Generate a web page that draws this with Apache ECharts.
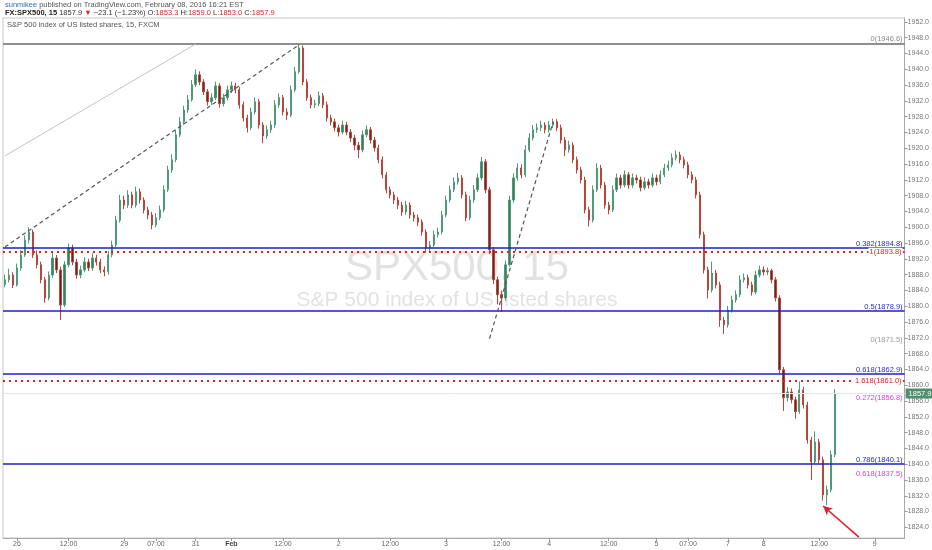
<!DOCTYPE html>
<html><head><meta charset="utf-8">
<script src="https://cdn.jsdelivr.net/npm/echarts@6/dist/echarts.min.js"></script>
<style>html,body{margin:0;padding:0;background:#fff}#c{width:932px;height:550px}</style>
</head><body><div id="c"></div>
<script>
// [open, close, low, high] per (coarsened) 15-min candle
const ohlc = [
[1885.5,1886.7,1884.8,1888.0],[1886.7,1887.9,1886.0,1889.5],[1887.9,1885.4,1884.6,1888.6],[1885.4,1889.7,1885.0,1890.8],
[1889.7,1893.0,1889.0,1894.2],[1893.0,1896.8,1892.5,1897.9],[1896.8,1898.8,1895.9,1900.0],[1898.8,1893.0,1892.2,1899.4],
[1893.0,1890.5,1889.6,1894.1],[1890.5,1886.7,1885.8,1891.3],[1886.7,1882.1,1880.9,1887.4],[1882.1,1887.9,1881.5,1888.8],
[1887.9,1892.2,1887.2,1893.5],[1892.2,1889.2,1888.4,1893.0],[1889.2,1880.3,1876.5,1890.0],[1880.3,1890.5,1879.8,1891.4],
[1890.5,1894.8,1889.9,1895.9],[1894.8,1891.2,1890.4,1895.6],[1891.2,1887.9,1887.0,1892.0],[1887.9,1889.2,1887.1,1890.3],
[1889.2,1891.2,1888.6,1892.4],[1891.2,1889.7,1888.9,1892.0],[1889.7,1892.2,1889.0,1893.4],[1892.2,1891.2,1890.3,1893.0],
[1891.2,1889.2,1888.4,1892.0],[1889.2,1888.7,1887.6,1890.1],[1888.7,1893.0,1888.0,1894.0],[1893.0,1895.5,1892.4,1896.6],
[1895.5,1901.8,1895.0,1902.9],[1901.8,1906.9,1901.2,1908.2],[1906.9,1905.6,1904.6,1908.0],[1905.6,1908.2,1904.9,1909.4],
[1908.2,1905.6,1904.8,1909.0],[1905.6,1909.0,1905.0,1910.3],[1909.0,1906.9,1906.0,1909.8],[1906.9,1904.4,1903.5,1907.6],
[1904.4,1903.1,1902.0,1905.2],[1903.1,1900.6,1899.5,1903.9],[1900.6,1902.4,1900.0,1903.6],[1902.4,1904.4,1901.8,1905.5],
[1904.4,1909.5,1903.8,1910.6],[1909.5,1914.5,1909.0,1915.6],[1914.5,1917.1,1913.8,1918.5],[1917.1,1923.4,1916.5,1924.6],
[1923.4,1926.7,1922.8,1927.9],[1926.7,1929.7,1926.0,1930.8],[1929.7,1932.3,1929.0,1933.5],[1932.3,1936.1,1931.8,1937.3],
[1936.1,1938.6,1935.5,1940.0],[1938.6,1936.8,1936.0,1939.5],[1936.8,1934.3,1933.5,1937.5],[1934.3,1931.8,1930.8,1935.0],
[1931.8,1932.8,1931.0,1933.9],[1932.8,1935.8,1932.2,1936.9],[1935.8,1931.3,1930.3,1936.5],[1931.3,1932.8,1930.6,1933.8],
[1932.8,1934.8,1932.1,1935.9],[1934.8,1935.8,1934.0,1936.9],[1935.8,1934.8,1933.9,1936.6],[1934.8,1931.0,1930.0,1935.5],
[1931.0,1927.7,1926.8,1931.8],[1927.7,1925.2,1924.0,1928.5],[1925.2,1929.2,1924.6,1930.3],[1929.2,1931.8,1928.6,1932.9],
[1931.8,1925.9,1925.0,1932.5],[1925.9,1923.1,1921.3,1926.6],[1923.1,1924.7,1922.4,1925.8],[1924.7,1925.9,1923.9,1927.0],
[1925.9,1931.0,1925.2,1932.2],[1931.0,1932.8,1930.3,1933.9],[1932.8,1929.2,1928.3,1933.5],[1929.2,1928.4,1927.2,1930.1],
[1928.4,1934.8,1927.9,1935.9],[1934.8,1939.4,1934.2,1940.6],[1939.4,1945.4,1938.9,1946.4],[1945.4,1936.8,1936.0,1946.0],
[1936.8,1932.8,1932.0,1937.5],[1932.8,1931.0,1930.1,1933.6],[1931.0,1931.3,1930.2,1932.3],[1931.3,1933.3,1930.7,1934.4],
[1933.3,1931.0,1930.2,1934.0],[1931.0,1927.7,1926.8,1931.8],[1927.7,1926.7,1925.8,1928.5],[1926.7,1925.2,1924.3,1927.5],
[1925.2,1924.1,1923.0,1926.0],[1924.1,1925.9,1923.5,1927.0],[1925.9,1924.1,1923.3,1926.7],[1924.1,1922.6,1921.6,1924.9],
[1922.6,1920.8,1919.5,1923.4],[1920.8,1919.6,1917.5,1921.6],[1919.6,1923.4,1919.0,1924.5],[1923.4,1924.7,1922.8,1925.8],
[1924.7,1922.1,1921.2,1925.4],[1922.1,1920.1,1919.2,1922.9],[1920.1,1917.1,1916.2,1920.9],[1917.1,1913.3,1912.4,1917.9],
[1913.3,1909.5,1908.6,1914.0],[1909.5,1908.2,1907.3,1910.3],[1908.2,1906.9,1905.9,1909.0],[1906.9,1905.6,1904.6,1907.7],
[1905.6,1903.9,1902.9,1906.4],[1903.9,1905.6,1903.2,1906.7],[1905.6,1903.1,1902.2,1906.3],[1903.1,1902.4,1901.5,1903.9],
[1902.4,1901.3,1900.3,1903.2],[1901.3,1898.8,1897.9,1902.0],[1898.8,1894.8,1893.6,1899.5],[1894.8,1895.5,1894.0,1896.5],
[1895.5,1898.1,1895.0,1899.2],[1898.1,1898.8,1897.4,1899.9],[1898.8,1903.1,1898.2,1904.2],[1903.1,1906.9,1902.5,1908.0],
[1906.9,1909.5,1906.3,1910.6],[1909.5,1911.5,1908.9,1912.6],[1911.5,1912.5,1910.8,1913.8],[1912.5,1908.2,1907.3,1913.2],
[1908.2,1902.4,1901.5,1909.0],[1902.4,1906.9,1901.8,1908.0],[1906.9,1909.5,1906.2,1910.7],[1909.5,1912.5,1908.9,1913.6],
[1912.5,1916.6,1911.9,1917.8],[1916.6,1909.5,1908.6,1917.3],[1909.5,1894.3,1893.2,1910.2],[1894.3,1886.7,1885.6,1895.0],
[1886.7,1882.9,1880.5,1887.5],[1882.9,1882.1,1878.6,1884.0],[1882.1,1890.5,1881.4,1891.6],[1890.5,1906.9,1890.0,1908.0],
[1906.9,1912.5,1906.2,1913.7],[1912.5,1915.0,1911.8,1916.2],[1915.0,1913.3,1912.4,1915.9],[1913.3,1919.6,1912.7,1920.8],
[1919.6,1922.6,1919.0,1923.8],[1922.6,1924.7,1922.0,1925.9],[1924.7,1925.2,1923.9,1926.3],[1925.2,1925.9,1924.4,1927.0],
[1925.9,1924.7,1923.8,1926.6],[1924.7,1925.9,1924.0,1926.9],[1925.9,1926.7,1925.1,1927.5],[1926.7,1925.2,1924.3,1927.4],
[1925.2,1922.1,1921.2,1926.0],[1922.1,1919.6,1918.0,1922.9],[1919.6,1920.8,1918.9,1921.9],[1920.8,1917.1,1916.2,1921.5],
[1917.1,1914.5,1913.6,1917.9],[1914.5,1912.0,1911.1,1915.3],[1912.0,1904.4,1903.5,1912.8],[1904.4,1901.8,1900.2,1905.2],
[1901.8,1909.5,1901.2,1910.6],[1909.5,1915.0,1908.9,1916.2],[1915.0,1910.7,1909.8,1915.8],[1910.7,1905.6,1904.7,1911.5],
[1905.6,1904.4,1903.3,1906.4],[1904.4,1909.5,1903.8,1910.6],[1909.5,1912.5,1908.9,1913.6],[1912.5,1910.7,1909.8,1913.3],
[1910.7,1913.3,1910.1,1914.4],[1913.3,1910.7,1909.8,1914.0],[1910.7,1912.5,1910.0,1913.6],[1912.5,1912.0,1911.1,1913.3],
[1912.0,1910.0,1909.1,1912.8],[1910.0,1911.5,1909.4,1912.6],[1911.5,1910.7,1909.8,1912.3],[1910.7,1912.5,1910.1,1913.6],
[1912.5,1911.5,1910.6,1913.3],[1911.5,1913.3,1910.9,1914.4],[1913.3,1915.0,1912.7,1916.1],[1915.0,1915.8,1914.3,1916.9],
[1915.8,1917.6,1915.2,1918.7],[1917.6,1918.3,1916.9,1919.5],[1918.3,1917.1,1916.2,1919.1],[1917.1,1915.8,1914.9,1917.9],
[1915.8,1913.3,1912.4,1916.6],[1913.3,1912.0,1911.1,1914.1],[1912.0,1908.2,1907.3,1912.8],[1908.2,1898.1,1897.2,1909.0],
[1898.1,1889.2,1888.3,1898.9],[1889.2,1884.1,1882.0,1890.0],[1884.1,1888.4,1883.5,1891.3],[1888.4,1885.4,1884.5,1889.2],
[1885.4,1876.5,1874.8,1886.2],[1876.5,1875.3,1873.0,1877.3],[1875.3,1879.0,1874.6,1880.1],[1879.0,1881.6,1878.4,1882.7],
[1881.6,1882.9,1880.9,1884.0],[1882.9,1886.7,1882.3,1887.8],[1886.7,1887.2,1886.0,1888.3],[1887.2,1885.4,1884.5,1888.0],
[1885.4,1883.6,1882.7,1886.2],[1883.6,1887.9,1883.0,1889.0],[1887.9,1889.2,1887.3,1890.3],[1889.2,1888.7,1887.8,1890.1],
[1888.7,1889.0,1887.9,1889.8],[1889.0,1886.7,1885.8,1889.5],[1886.7,1882.1,1881.2,1887.4],[1882.1,1863.9,1863.0,1882.8],
[1863.9,1856.8,1853.5,1864.6],[1856.8,1858.3,1855.9,1859.5],[1858.3,1856.3,1855.4,1859.2],[1856.3,1853.3,1851.5,1857.1],
[1853.3,1858.8,1852.7,1861.0],[1858.8,1855.0,1854.1,1859.6],[1855.0,1846.1,1845.2,1855.8],[1846.1,1840.6,1836.0,1846.9],
[1840.6,1845.6,1840.0,1848.3],[1845.6,1841.1,1840.2,1846.4],[1841.1,1832.2,1830.8,1841.9],[1832.2,1833.5,1829.6,1834.6],
[1833.5,1842.4,1832.9,1843.5],[1842.4,1857.9,1841.8,1859.0]
];
const slotCount = 227; // data slots plus empty space to the right
const categories = Array.from({length: slotCount}, (_, i) => 'c' + i);
const tickSlots = [3,16,30,38,48,57,70,84,97,111,125,137,152,164,172,182,191,205,219];
const tickTexts = ['26','12:00','29','07:00','31','Feb','12:00','2','12:00','3','12:00','4','12:00','5','07:00','7','8','12:00','9'];
const yTicks = [1824,1828,1832,1836,1840,1844,1848,1852,1856,1860,1864,1868,1872,1876,1880,1884,1888,1892,1896,1900,1904,1908,1912,1916,1920,1924,1928,1932,1936,1940,1944,1948,1952];
const yRange = [1821.3, 1953.0];
const lastPrice = 1857.9;
const topLevel = {name:'0', price:1946.6};
const blueFib = [{name:'0.382', price:1894.8},{name:'0.5', price:1878.9},{name:'0.618', price:1862.9},{name:'0.786', price:1840.1}];
const redLevels = [{name:'1', price:1893.8},{name:'1.618', price:1861.0}];
const pinkLevels = [{name:'0.272', price:1856.8},{name:'0.618', price:1837.5}];
const greyLevels = [{name:'0', price:1871.5}];
// trend lines: [startSlot, startPrice, endSlot, endPrice]
const thinLine = [0, 1918.1, 48, 1946.4];
const dashLine1 = [0, 1895.0, 74, 1946.2];
const dashLine2 = [122, 1871.8, 138, 1926.7];
const arrowLine = [215, 1821.5, 206, 1829.4];

const FONT = "'Liberation Sans', Arial, sans-serif";
const chart = echarts.init(document.getElementById('c'), null, {renderer: 'canvas'});
const lvl = l => l.name + '(' + l.price.toFixed(1) + ')';
const seg = (s, style) => [{coord:[s[0], s[1]], lineStyle: style}, {coord:[s[2], s[3]], lineStyle: style}];
const tickInterval = (idx) => tickSlots.indexOf(idx) >= 0;
const hidden = {color: 'rgba(255,255,255,0)', width: 0.1, type: 'solid'};

const levelLines = [];
levelLines.push({yAxis: topLevel.price, lineStyle:{color:'#6a6a6a', width:1.6, type:'solid'},
  label:{show:true, position:'insideEndTop', distance:[2,0], formatter: lvl(topLevel), color:'#8a8a8a', fontSize:7.5, fontFamily:FONT}});
blueFib.forEach(l => levelLines.push({yAxis: l.price, lineStyle:{color:'#1f1fc8', width:1.5, type:'solid'},
  label:{show:true, position:'insideEndTop', distance:[2,0], formatter: lvl(l), color:'#2b2bd0', fontSize:7.5, fontFamily:FONT}}));
redLevels.forEach(l => levelLines.push({yAxis: l.price, lineStyle:{color:'#e02020', width:2, type:[2,4]},
  label:{show:true, position:'insideEnd', distance:[2,0], formatter: lvl(l), color:'#e02020', fontSize:7.5, fontFamily:FONT, backgroundColor:'#fff', padding:[0,1]}}));
pinkLevels.forEach(l => levelLines.push({yAxis: l.price, lineStyle: hidden,
  label:{show:true, position:'insideEnd', distance:[2,0], formatter: lvl(l), color:'#e040e0', fontSize:7.5, fontFamily:FONT}}));
greyLevels.forEach(l => levelLines.push({yAxis: l.price, lineStyle: hidden,
  label:{show:true, position:'insideEnd', distance:[2,0], formatter: lvl(l), color:'#9a9a9a', fontSize:7.5, fontFamily:FONT}}));
levelLines.push({yAxis: lastPrice, lineStyle:{color:'#e6e6e6', width:1, type:'solid'},
  label:{show:true, position:'end', distance:1, formatter: lastPrice.toFixed(1), color:'#fff', backgroundColor:'#4f8f6f', padding:[1,3,1,3], fontSize:7.5, fontFamily:FONT}});

const option = {
  animation: false,
  backgroundColor: '#fff',
  grid: {left: 3, right: 20, top: 18, bottom: 12, show: true, borderColor: '#c8c8c8', borderWidth: 1},
  xAxis: {
    type: 'category', data: categories, boundaryGap: true,
    axisLine: {show: true, lineStyle: {color: '#aaa'}},
    axisTick: {show: true, interval: tickInterval, alignWithLabel: true, length: 3, lineStyle: {color: '#999'}},
    axisLabel: {interval: tickInterval, margin: 3, fontSize: 7, color: '#666', fontFamily: FONT,
      formatter: (v, i) => { const k = tickSlots.indexOf(i); if (k < 0) return ''; const t = tickTexts[k]; return /^[A-Za-z]/.test(t) ? '{b|' + t + '}' : t; },
      rich: {b: {fontWeight: 'bold', fontSize: 7, color: '#444', fontFamily: FONT}}},
    splitLine: {show: false}
  },
  yAxis: {
    type: 'value', position: 'right', min: yRange[0], max: yRange[1], scale: true,
    axisLine: {show: true, lineStyle: {color: '#aaa'}},
    axisTick: {show: true, customValues: yTicks, length: 3, inside: false, lineStyle: {color: '#999'}},
    axisLabel: {customValues: yTicks, formatter: v => v.toFixed(1), fontSize: 7, color: '#777', margin: 3, fontFamily: FONT},
    splitLine: {show: false}
  },
  graphic: [
    {type: 'text', x: 457, y: 268, z: 0, silent: true, style: {text: 'SPX500, 15', font: '42px ' + FONT, fill: '#e2e2e2', align: 'center', verticalAlign: 'middle'}},
    {type: 'text', x: 457, y: 300, z: 0, silent: true, style: {text: 'S&P 500 index of US listed shares', font: '21px ' + FONT, fill: '#e2e2e2', align: 'center', verticalAlign: 'middle'}},
    {type: 'text', x: 5, y: 1, z: 100, style: {text: '{u|sunmikee} published on TradingView.com, February 08, 2016 16:21 EST', font: '7.5px ' + FONT, fill: '#555',
      rich: {u: {fill: '#2e6fc0', font: '7.5px ' + FONT}}}},
    {type: 'text', x: 5, y: 9, z: 100, style: {text: '{b|FX:SPX500, 15} 1857.9 {r|▼} \u221223.1 (\u22121.23%) O:{r|1853.3} H:{r|1859.0} L:{r|1853.0} C:{r|1857.9}', font: '7.5px ' + FONT, fill: '#333',
      rich: {b: {font: 'bold 7.5px ' + FONT, fill: '#222'}, r: {font: '7.5px ' + FONT, fill: '#d02828'}}}},
    {type: 'text', x: 7, y: 21, z: 100, style: {text: 'S&P 500 index of US listed shares, 15, FXCM', font: '7.5px ' + FONT, fill: '#555'}}
  ],
  series: [
    {
      type: 'candlestick', data: ohlc, barWidth: 1.8, clip: false, z: 3,
      itemStyle: {color: '#3d7d60', color0: '#5a3024', borderColor: '#4f9a78', borderColor0: '#b8463a', borderWidth: 1}
    },
    {
      type: 'line', data: [], z: 4, clip: false,
      markLine: {silent: true, symbol: ['none', 'none'], animation: false,
        data: levelLines.concat([
          seg(thinLine, {color: '#c4c4c4', width: 1, type: 'solid'}),
          seg(dashLine1, {color: '#555', width: 1.2, type: [4, 3]}),
          seg(dashLine2, {color: '#555', width: 1.2, type: [4, 3]})
        ])}
    },
    {
      type: 'line', data: [], z: 5, clip: false,
      markLine: {silent: true, symbol: ['none', 'arrow'], symbolSize: [7, 9], animation: false,
        label: {show: false},
        data: [seg(arrowLine, {color: '#e0202a', width: 1.6, type: 'solid'})]}
    }
  ]
};
chart.setOption(option);
</script>
</body></html>
